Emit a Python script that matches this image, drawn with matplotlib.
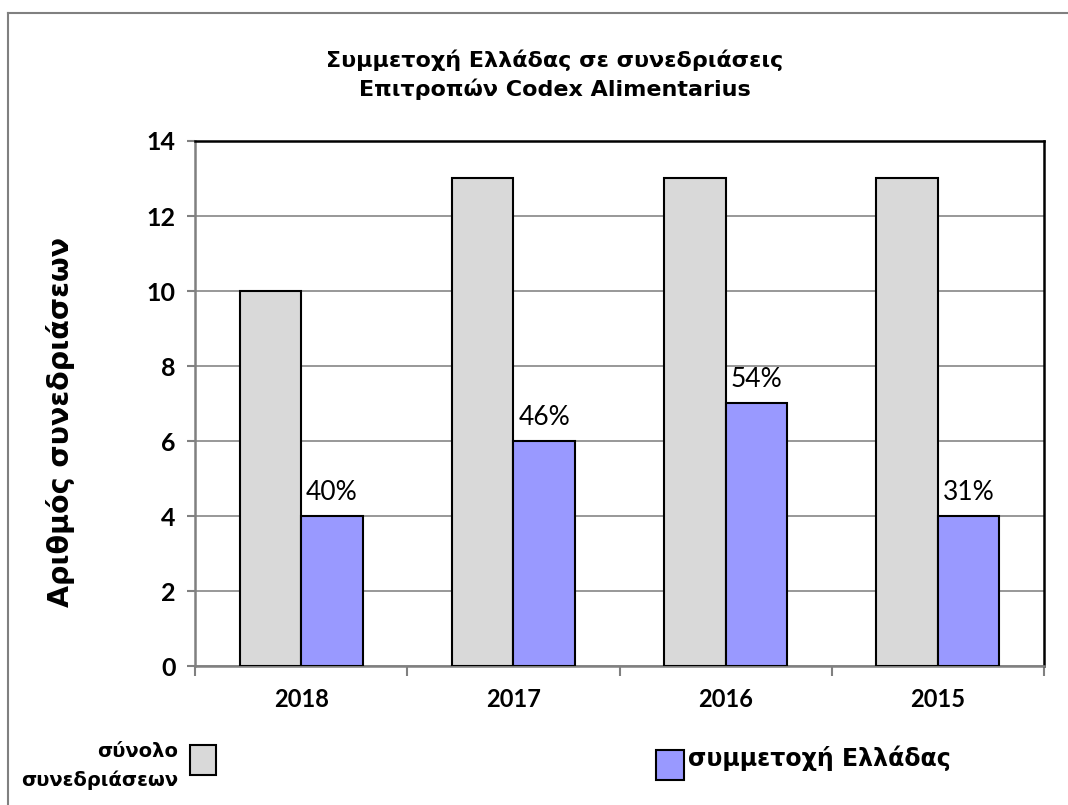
import numpy as np
import matplotlib
matplotlib.use("Agg")
import matplotlib.pyplot as plt
from matplotlib.patches import Rectangle
from matplotlib.lines import Line2D

years = ["2018", "2017", "2016", "2015"]
total_meetings = [10, 13, 13, 13]
greece_meetings = [4, 6, 7, 4]
pct_labels = ["40%", "46%", "54%", "31%"]
y_ticks = [0, 2, 4, 6, 8, 10, 12, 14]

title = "Συμμετοχή Ελλάδας σε συνεδριάσεις\nΕπιτροπών Codex Alimentarius"
y_label = "Αριθμός συνεδριάσεων"
legend_total = "σύνολο\nσυνεδριάσεων"
legend_greece = "συμμετοχή Ελλάδας"

W, H = 1068, 805
fig = plt.figure(figsize=(W / 100, H / 100), dpi=100)

# axes box in pixels (left, top, right, bottom)
L, T, R, B = 195, 141, 1044, 666
ax = fig.add_axes([L / W, 1 - B / H, (R - L) / W, (B - T) / H])

x = np.arange(len(years))
bw = 0.29
ax.bar(x - bw / 2, total_meetings, bw, color="#D9D9D9", edgecolor="black", lw=1.5, zorder=3)
ax.bar(x + bw / 2, greece_meetings, bw, color="#9999FF", edgecolor="black", lw=1.5, zorder=3)

for xi, v, lab in zip(x, greece_meetings, pct_labels):
    ax.text(xi + bw / 2, v + 0.3, lab, ha="center", va="bottom",
            fontsize=19, family="Lato", color="black")

ax.set_xlim(-0.5, len(years) - 0.5)
ax.set_ylim(0, 14)
ax.set_yticks(y_ticks)
ax.set_yticklabels([str(t) for t in y_ticks], fontsize=18, fontweight="bold", family="Lato")
ax.set_xticks(x)
ax.set_xticklabels(years, fontsize=17, fontweight="bold", family="Lato")
ax.tick_params(axis="x", length=0, pad=16)
ax.tick_params(axis="y", length=6, color="#808080", width=1.5, pad=8)
# category boundary ticks
ax.set_xticks(np.arange(-0.5, len(years)), minor=True)
ax.tick_params(axis="x", which="minor", length=7, color="#808080", width=1.5)

ax.grid(axis="y", color="#909090", lw=1.3, zorder=0)
for s in ["left", "bottom"]:
    ax.spines[s].set_color("#808080")
    ax.spines[s].set_linewidth(1.8)
for s in ["top", "right"]:
    ax.spines[s].set_color("black")
    ax.spines[s].set_linewidth(1.8)

ax.set_ylabel(y_label, fontsize=20.5, fontweight="bold")
ax.yaxis.set_label_coords(-(L - 75) / (R - L), 1 - (422 - T) / (B - T))

fig.text(555 / W, 1 - 75 / H, title, ha="center", va="center",
         fontsize=16, fontweight="bold", linespacing=1.45)

# legend drawn by hand
fig.text(178 / W, 1 - 766 / H, legend_total, ha="right", va="center",
         fontsize=14, fontweight="bold", linespacing=1.55)
fig.patches.append(Rectangle((190 / W, 1 - 775 / H), 26 / W, 30 / H,
                             transform=fig.transFigure, facecolor="#D9D9D9",
                             edgecolor="black", lw=1.5))
fig.patches.append(Rectangle((656 / W, 1 - 780 / H), 28 / W, 30 / H,
                             transform=fig.transFigure, facecolor="#9999FF",
                             edgecolor="black", lw=1.5))
fig.text(688 / W, 1 - 758 / H, legend_greece, ha="left", va="center",
         fontsize=17, fontweight="bold")

# outer frame (top and left edges visible)
fig.lines.append(Line2D([8 / W, 1], [1 - 13 / H, 1 - 13 / H], transform=fig.transFigure,
                        color="#808080", lw=1.5))
fig.lines.append(Line2D([8 / W, 8 / W], [0, 1 - 13 / H], transform=fig.transFigure,
                        color="#808080", lw=1.5))

fig.savefig("out.png", dpi=100, facecolor="white")
